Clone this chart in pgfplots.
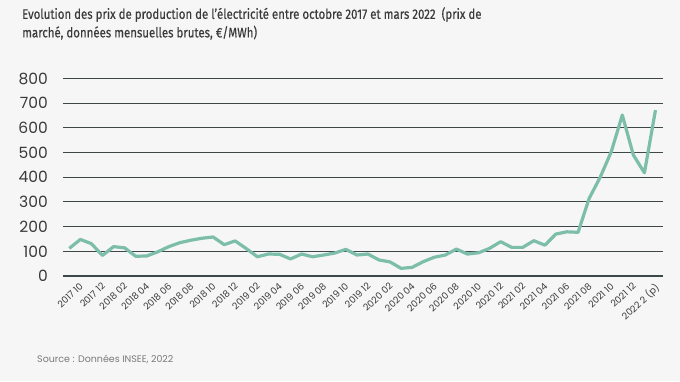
\documentclass[border=0pt]{standalone}
\usepackage{pgfplots}
\pgfplotsset{compat=1.18}
\usepackage{fontspec}
\setmainfont{Poppins}
\newfontfamily\titlefont[FakeStretch=0.83,FakeBold=0.4]{Fira Sans}
\definecolor{bgc}{HTML}{F6F6F6}
\definecolor{linec}{HTML}{7CBEA9}
\definecolor{gridc}{HTML}{3E4848}
\definecolor{txt}{HTML}{3A3A3A}
\definecolor{srcc}{HTML}{7A7A7A}
\begin{document}
\begin{tikzpicture}[x=1pt,y=1pt]
\fill[bgc] (0,0) rectangle (680,381);
\path[use as bounding box] (0,0) rectangle (680,381);
\node[anchor=north west, inner sep=0pt, align=left, text=txt, font=\titlefont\fontsize{13.8}{18.5}\selectfont] at (22,374)
{Evolution des prix de production de l’électricité entre octobre 2017 et mars 2022~~(prix de\\marché, données mensuelles brutes, €/MWh)};
\node[anchor=base west, inner sep=0pt, text=srcc, font=\fontsize{9.5}{11}\selectfont] at (37,19) {Source : Données INSEE, 2022};
\begin{axis}[
  at={(63pt,105pt)}, anchor=south west,
  scale only axis, width=600pt, height=197.5pt,
  xmin=-0.57, xmax=53.68, ymin=0, ymax=800,
  axis line style={draw=none},
  ytick={0,100,...,800},
  ymajorgrids, grid style={gridc, line width=0.9pt},
  extra y ticks={0}, extra y tick labels={},
  extra y tick style={grid style={gridc, line width=2.6pt}},
  yticklabel style={font=\fontsize{15.5}{15.5}\selectfont, text=txt, anchor=east, inner sep=0pt, xshift=-15pt},
  /pgf/number format/assume math mode=true,
  xtick={0,2,...,52},
  xticklabels={2017 10,2017 12,2018 02,2018 04,2018 06,2018 08,2018 10,2018 12,2019 02,2019 04,2019 06,2019 08,2019 10,2019 12,2020 02,2020 04,2020 06,2020 08,2020 10,2020 12,2021 02,2021 04,2021 06,2021 08,2021 10,2021 12,2022 2 (p)},
  xticklabel style={font=\fontsize{9.3}{9.5}\selectfont, text=txt, rotate=43, anchor=north east, inner sep=0pt, xshift=3pt, yshift=-11pt},
  major tick length=0pt,
  tick style={draw=none},
  clip=false,
]
\addplot[linec, line width=3.2pt, line join=round] coordinates {
(0,112)(1,148)(2,131)(3,83)(4,119)(5,114)(6,80)(7,81)(8,98)(9,119)(10,135)(11,145)(12,153)(13,158)(14,127)(15,142)(16,111)(17,78)(18,89)(19,88)(20,69)(21,89)(22,78)(23,85)(24,93)(25,108)(26,85)(27,89)(28,65)(29,57)(30,31)(31,35)(32,58)(33,76)(34,85)(35,109)(36,89)(37,94)(38,112)(39,139)(40,116)(41,116)(42,143)(43,125)(44,170)(45,179)(46,177)(47,314)(48,400)(49,503)(50,652)(51,490)(52,418)(53,672)
};
\end{axis}
\end{tikzpicture}
\end{document}
